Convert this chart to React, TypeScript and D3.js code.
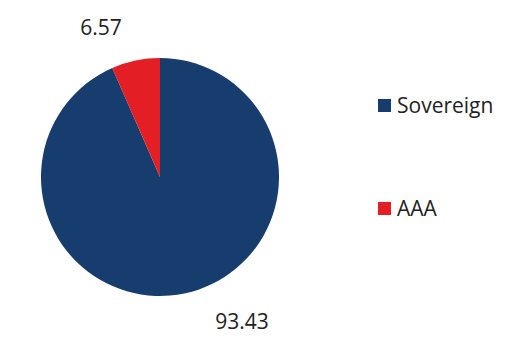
import React from "react";
import * as d3 from "d3";

const categories = ["Sovereign", "AAA"];
const values = [93.43, 6.57];
const colors = ["#173c6e", "#e31e24"];

export default function App() {
  const width = 521, height = 364;
  const cx = 160, cy = 177, r = 119;
  const pie = d3.pie<number>().sort(null).startAngle(0).endAngle(2 * Math.PI);
  const arcs = pie(values);
  const arc = d3.arc<d3.PieArcDatum<number>>().innerRadius(0).outerRadius(r);
  const labelPos = [
    { x: 242, y: 329 },
    { x: 101, y: 35 },
  ];
  const legendY = [113, 216];
  return (
    <svg width={width} height={height} style={{ position: "absolute", left: 0, top: 0, fontFamily: "'Open Sans', sans-serif" }}>
      <rect width={width} height={height} fill="#fff" />
      <g transform={`translate(${cx},${cy})`}>
        {arcs.map((a, i) => (
          <path key={i} d={arc(a) || ""} fill={colors[i]} />
        ))}
      </g>
      {arcs.map((a, i) => (
        <text key={i} x={labelPos[i].x} y={labelPos[i].y} textAnchor="middle" fontSize={21} fill="#222">
          {values[i].toFixed(2)}
        </text>
      ))}
      {categories.map((c, i) => (
        <g key={c}>
          <rect x={378} y={legendY[i] - 14} width={13} height={13} fill={colors[i]} />
          <text x={397} y={legendY[i]} fontSize={21} fill="#222">{c}</text>
        </g>
      ))}
    </svg>
  );
}
